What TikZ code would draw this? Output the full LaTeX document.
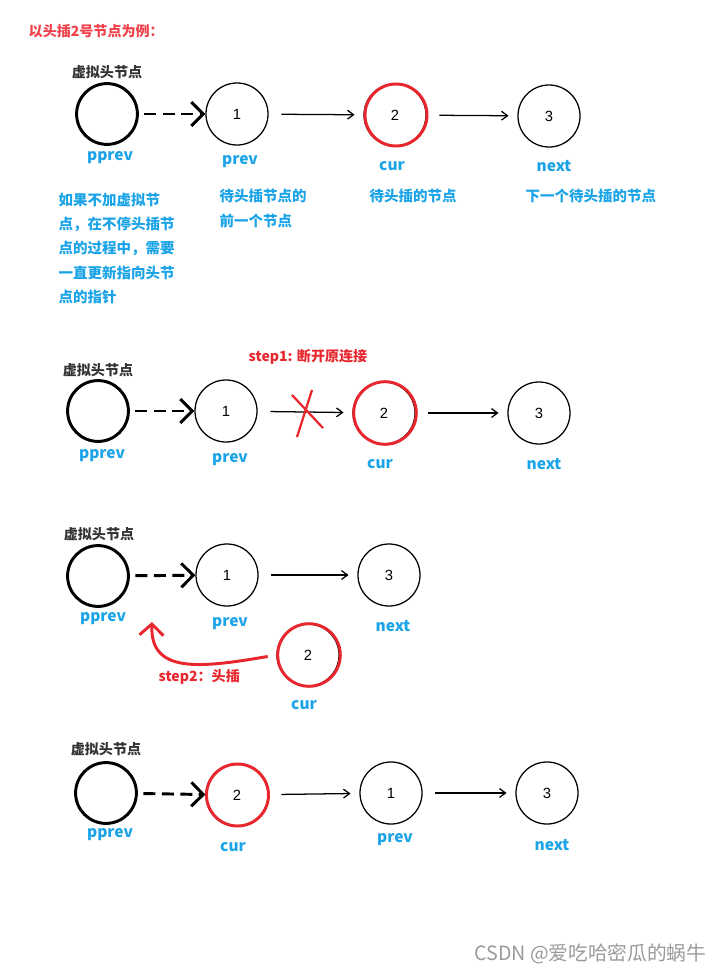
\documentclass[tikz,border=0pt]{standalone}
\usepackage{fontspec}
\setmainfont{Noto Sans CJK SC}
\newfontfamily\numfont{Liberation Sans}
\usetikzlibrary{positioning, arrows.meta}
\definecolor{CSDN_Red}{HTML}{E8262E}
\definecolor{CSDN_Title}{HTML}{F0414B}
\definecolor{CSDN_Blue}{HTML}{1AA3E6}
\definecolor{CSDN_Dark}{HTML}{333333}
\definecolor{CSDN_Gray}{HTML}{9A9A9A}

\begin{document}
\begin{tikzpicture}[x=0.025cm, y=-0.025cm, every node/.style={inner sep=1pt},
  lnode/.style={draw, circle, line width=0.9pt, minimum size=1.55cm,
    font=\numfont\fontsize{10.5}{12}\selectfont},
  headnode/.style={draw, circle, line width=2.1pt, minimum size=1.52cm},
  ring/.style={draw=CSDN_Red, line width=2.1pt},
  cutmark/.style={draw=CSDN_Red, line width=1.6pt},
  varname/.style={text=CSDN_Blue, font=\bfseries\fontsize{11}{13}\selectfont},
  note/.style={text=CSDN_Blue, anchor=west, align=left,
    font=\bfseries\fontsize{10.3}{17.3}\selectfont},
  headname/.style={text=CSDN_Dark, font=\bfseries\fontsize{10}{12}\selectfont},
  stepnote/.style={text=CSDN_Red, font=\bfseries\fontsize{10}{12}\selectfont},
  arr/.style={-{Straight Barb[length=0.15cm, width=0.22cm]}, line width=0.9pt,
    shorten <=0.32cm, shorten >=0.22cm},
  darr/.style={-{Straight Barb[length=0.3cm, width=0.6cm]}, line width=2.1pt,
    dash pattern=on 0.3cm off 0.16cm, shorten <=0.14cm},
  insarr/.style={-{Straight Barb[length=0.28cm, width=0.6cm]}, line width=2.1pt,
    CSDN_Red, shorten <=0.22cm}
]
  \useasboundingbox (0,0) rectangle (723,973);

  \node[stepnote, anchor=west, text=CSDN_Title] (title) at (27,31) {以头插2号节点为例：};

  % Row 1
  \node[headnode] (pp1) at (107,114) {};
  \node[lnode] (one1) at (237,114) {1};
  \node[lnode] (two1) at (395,115) {2};
  \node[lnode] (three1) at (549,116) {3};
  \draw[ring] (two1.center) ++(1,0) circle (31);
  \node[headname] (h1) at (107,72) {虚拟头节点};
  \node[varname] (lpp1) at (110,158) {pprev};
  \node[varname] (lone1) at (240,162) {prev};
  \node[varname] (ltwo1) at (392,166) {cur};
  \node[varname] (lthree1) at (554,166) {next};
  \draw[darr] (pp1) -- (one1);
  \draw[arr] (one1) -- (two1);
  \draw[arr] (two1) -- (three1);
  % notes under row 1
  \node[note] (why) at (57,248.5) {如果不加虚拟节\\点，在不停头插节\\点的过程中，需要\\一直更新指向头节\\点的指针};
  \node[note] (noteprev) at (218,208.5) {待头插节点的\\前一个节点};
  \node[note] (notecur) at (368,196) {待头插的节点};
  \node[note] (notenext) at (524,196) {下一个待头插的节点};

  % Row 2
  \node[stepnote] (step1) at (308,357) {step1: 断开原连接};
  \node[headnode] (pp2) at (98,411) {};
  \node[lnode] (one2) at (226,411) {1};
  \node[lnode] (two2) at (384,413) {2};
  \node[lnode] (three2) at (539,413) {3};
  \draw[ring] (two2.center) ++(1,0) circle (31.3);
  \node[headname] (h2) at (98,370) {虚拟头节点};
  \node[varname] (lpp2) at (102,456) {pprev};
  \node[varname] (lone2) at (230,460) {prev};
  \node[varname] (ltwo2) at (380,464) {cur};
  \node[varname] (lthree2) at (544,464) {next};
  \draw[darr] (pp2) -- (one2);
  \draw[arr] (one2) -- (two2);
  \draw[arr] (two2) -- (three2);
  % broken link
  \draw[cutmark] (292,395) -- (323,428);
  \draw[cutmark] (312,390) -- (297,437);

  % Row 3
  \node[headnode] (pp3) at (98,576) {};
  \node[lnode] (one3) at (227,575) {1};
  \node[lnode] (three3) at (389,575) {3};
  \node[lnode] (two3) at (308,655) {2};
  \draw[ring] (two3.center) ++(1,0) circle (31.3);
  \node[headname] (h3) at (99,534) {虚拟头节点};
  \node[varname] (lpp3) at (103,619) {pprev};
  \node[varname] (lone3) at (230,624) {prev};
  \node[varname] (lthree3) at (393,626) {next};
  \node[varname] (ltwo3) at (304,705) {cur};
  \draw[darr] (pp3) -- (one3);
  \draw[arr] (one3) -- (three3);
  % head insert
  \coordinate (ins) at (152,622);
  \draw[insarr] (two3.west) .. controls (200,668) and (150,674) .. (ins);
  \node[stepnote, anchor=west] (step2) at (157,677) {step2：头插};

  % Row 4
  \node[headnode] (pp4) at (106,793) {};
  \node[lnode] (two4) at (237,795) {2};
  \node[lnode] (one4) at (391,793) {1};
  \node[lnode] (three4) at (547,793) {3};
  \draw[ring] (two4.center) ++(0.5,0) circle (31);
  \node[headname] (h4) at (106,749) {虚拟头节点};
  \node[varname] (lpp4) at (110,835) {pprev};
  \node[varname] (ltwo4) at (233,847) {cur};
  \node[varname] (lone4) at (395,840) {prev};
  \node[varname] (lthree4) at (552,845) {next};
  \draw[darr] (pp4) -- (two4);
  \draw[arr] (two4) -- (one4);
  \draw[arr] (one4) -- (three4);

  \node[anchor=east, text=CSDN_Gray, font=\fontsize{14}{16}\selectfont] (mark) at (708,954) {CSDN @爱吃哈密瓜的蜗牛};
\end{tikzpicture}
\end{document}
